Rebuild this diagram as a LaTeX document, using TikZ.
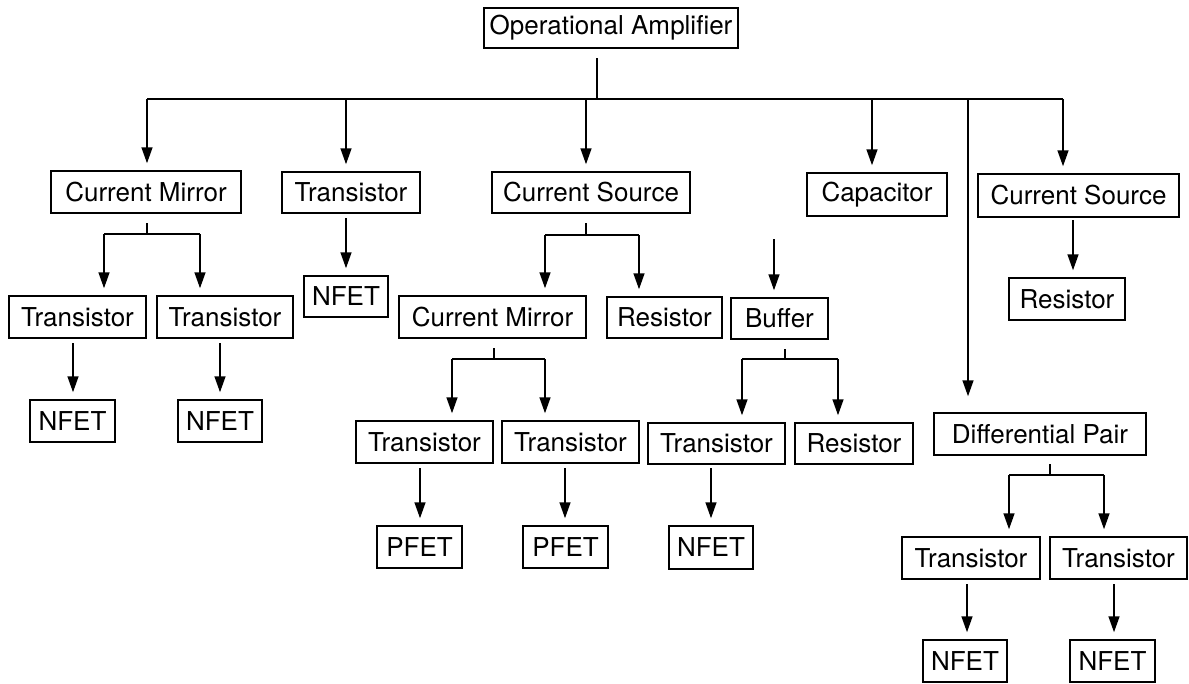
\documentclass[tikz,border=0pt]{standalone}
\usepackage{fontspec}
\setmainfont{TeX Gyre Heros}
\usetikzlibrary{arrows.meta}
\begin{document}
\begin{tikzpicture}[x=1pt,y=-1pt,
  box/.style={draw, line width=1.5pt, inner sep=0pt, minimum height=42pt, font=\fontsize{26}{30}\selectfont},
  ln/.style={line width=1.5pt},
  arr/.style={ln, -{Triangle[length=16pt,width=11pt]}, shorten >=7pt},
  farr/.style={arr, shorten >=16pt}]
\useasboundingbox (0,0) rectangle (1189,683);
% nodes
\node[box, minimum width=254pt, minimum height=40pt] (oa) at (611,28) {Operational Amplifier};
\node[box, minimum width=190pt] (cm1) at (146,192) {Current Mirror};
\node[box, minimum width=138pt, minimum height=41pt] (t1) at (351,192.5) {Transistor};
\node[box, minimum width=198pt, minimum height=41pt] (cs1) at (591,192.5) {Current Source};
\node[box, minimum width=140pt, minimum height=43pt] (cap) at (877,194.5) {Capacitor};
\node[box, minimum width=201pt, minimum height=43pt] (cs2) at (1078.5,195.5) {Current Source};
\node[box, minimum width=137pt] (tA) at (77.5,317) {Transistor};
\node[box, minimum width=136pt] (tB) at (225,317) {Transistor};
\node[box, minimum width=84pt, minimum height=41pt] (nT1) at (346,296.5) {NFET};
\node[box, minimum width=187pt] (cm2) at (492.5,317) {Current Mirror};
\node[box, minimum width=115pt, minimum height=41pt] (res1) at (664.5,317.5) {Resistor};
\node[box, minimum width=97pt, minimum height=41pt] (buf) at (779.5,318.5) {Buffer};
\node[box, minimum width=116pt] (res2) at (1067,299) {Resistor};
\node[box, minimum width=85pt] (nA) at (72.5,421) {NFET};
\node[box, minimum width=84pt] (nB) at (220,421) {NFET};
\node[box, minimum width=137pt] (tC) at (424.5,442) {Transistor};
\node[box, minimum width=137pt] (tD) at (570.5,442) {Transistor};
\node[box, minimum width=85pt] (pA) at (419.5,547) {PFET};
\node[box, minimum width=85pt] (pB) at (565.5,547) {PFET};
\node[box, minimum width=137pt, minimum height=41pt] (tE) at (716.5,443.5) {Transistor};
\node[box, minimum width=118pt, minimum height=41pt] (res3) at (854,443.5) {Resistor};
\node[box, minimum width=84pt, minimum height=43pt] (nE) at (711,547.5) {NFET};
\node[box, minimum width=212pt] (dp) at (1040,434) {Differential Pair};
\node[box, minimum width=138pt] (tF) at (971,558) {Transistor};
\node[box, minimum width=137pt] (tG) at (1118.5,558) {Transistor};
\node[box, minimum width=84pt] (nF) at (965,661) {NFET};
\node[box, minimum width=85pt] (nG) at (1112.5,661) {NFET};
% top level
\coordinate (oaS) at (597,58);
\coordinate (oaJ) at (597,99);
\coordinate (d1) at (147,99);
\coordinate (d2) at (346,99);
\coordinate (d3) at (586,99);
\coordinate (d4) at (872,99);
\coordinate (d5) at (968,99);
\coordinate (d6) at (1063,99);
\draw[ln] (oaS) -- (oaJ);
\draw[ln] (d1) -- (d6);
\draw[arr] (d1) -- (d1 |- cm1.north);
\draw[arr] (d2) -- (d2 |- t1.north);
\draw[arr] (d3) -- (d3 |- cs1.north);
\draw[arr] (d4) -- (d4 |- cap.north);
\draw[farr] (d5) -- (d5 |- dp.north);
\draw[arr] (d6) -- (d6 |- cs2.north);
% current mirror 1
\coordinate (cm1S) at (147,223);
\coordinate (cm1J) at (147,234);
\coordinate (cm1L) at (104,234);
\coordinate (cm1R) at (200,234);
\draw[ln] (cm1S) -- (cm1J);
\draw[ln] (cm1L) -- (cm1R);
\draw[arr] (cm1L) -- (cm1L |- tA.north);
\draw[arr] (cm1R) -- (cm1R |- tB.north);
\coordinate (tAS) at (73,343);
\coordinate (tBS) at (220,343);
\draw[arr] (tAS) -- (tAS |- nA.north);
\draw[arr] (tBS) -- (tBS |- nB.north);
% transistor 1
\coordinate (t1S) at (346,218);
\draw[arr] (t1S) -- (t1S |- nT1.north);
% current source 1
\coordinate (cs1S) at (586,223);
\coordinate (cs1J) at (586,235);
\coordinate (cs1L) at (545,235);
\coordinate (cs1R) at (639,235);
\draw[ln] (cs1S) -- (cs1J);
\draw[ln] (cs1L) -- (cs1R);
\draw[arr] (cs1L) -- (cs1L |- cm2.north);
\draw[arr] (cs1R) -- (cs1R |- res1.north);
% current mirror 2
\coordinate (cm2S) at (494,348);
\coordinate (cm2J) at (494,359);
\coordinate (cm2L) at (452,359);
\coordinate (cm2R) at (545,359);
\draw[ln] (cm2S) -- (cm2J);
\draw[ln] (cm2L) -- (cm2R);
\draw[arr] (cm2L) -- (cm2L |- tC.north);
\draw[arr] (cm2R) -- (cm2R |- tD.north);
\coordinate (tCS) at (420,468);
\coordinate (tDS) at (565,468);
\draw[arr] (tCS) -- (tCS |- pA.north);
\draw[arr] (tDS) -- (tDS |- pB.north);
% buffer
\coordinate (bufT) at (774,239);
\draw[arr] (bufT) -- (bufT |- buf.north);
\coordinate (bufS) at (785,349);
\coordinate (bufJ) at (785,359);
\coordinate (bufL) at (742,359);
\coordinate (bufR) at (838,359);
\draw[ln] (bufS) -- (bufJ);
\draw[ln] (bufL) -- (bufR);
\draw[arr] (bufL) -- (bufL |- tE.north);
\draw[arr] (bufR) -- (bufR |- res3.north);
\coordinate (tES) at (711,468);
\draw[arr] (tES) -- (tES |- nE.north);
% current source 2
\coordinate (cs2S) at (1073,220);
\draw[arr] (cs2S) -- (cs2S |- res2.north);
% differential pair
\coordinate (dpS) at (1050,464);
\coordinate (dpJ) at (1050,475);
\coordinate (dpL) at (1009,475);
\coordinate (dpR) at (1104,475);
\draw[ln] (dpS) -- (dpJ);
\draw[ln] (dpL) -- (dpR);
\draw[arr] (dpL) -- (dpL |- tF.north);
\draw[arr] (dpR) -- (dpR |- tG.north);
\coordinate (tFS) at (967,584);
\coordinate (tGS) at (1114,584);
\draw[arr] (tFS) -- (tFS |- nF.north);
\draw[arr] (tGS) -- (tGS |- nG.north);
\end{tikzpicture}
\end{document}
